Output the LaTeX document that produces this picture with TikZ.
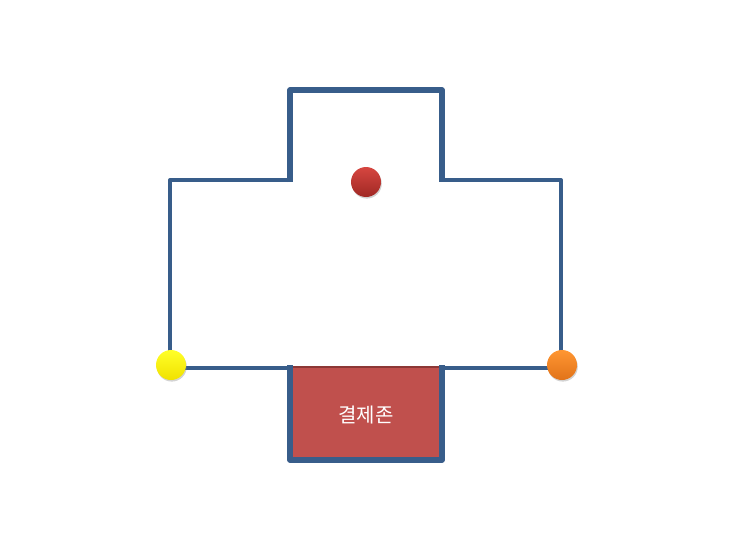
\documentclass[tikz,border=0pt]{standalone}
\usepackage{fontspec}
\newfontfamily\krfont{Noto Sans CJK KR}
\usetikzlibrary{shadows}

\definecolor{wallblue}{RGB}{56,93,138}
\definecolor{zonered}{RGB}{192,80,77}
\definecolor{zoneedge}{RGB}{140,56,54}

\tikzset{every picture/.style={line width=0.75pt}}
\tikzset{
  thinwall/.style={color=wallblue, line width=3pt, line join=round},
  thickwall/.style={color=wallblue, line width=4.2pt, line join=round},
  ball/.style={circle, minimum size=22.5pt, inner sep=0pt, drop shadow={opacity=0.35, shadow xshift=0.6pt, shadow yshift=-1.2pt}},
}

\begin{document}
\begin{tikzpicture}[x=0.75pt,y=0.75pt,yscale=-1,xscale=1]
\useasboundingbox (0,0) rectangle (730,549);
%Shape: Rectangle [id:zone fill]
\fill [zonered] (290,367) rectangle (442,460) ;
%Straight Lines [id:zone top edge]
\draw [zoneedge, line width=1.2pt] (292,367) -- (440,367) ;
%Straight Lines [id:left wing]
\draw [thinwall] (170,368) -- (170,180) -- (290,180) ;
\draw [thinwall] (170,368) -- (290,368) ;
%Straight Lines [id:right wing]
\draw [thinwall] (442,180) -- (561,180) -- (561,368) -- (442,368) ;
%Straight Lines [id:top room]
\draw [thickwall] (290,182) -- (290,90) -- (442,90) -- (442,182) ;
%Straight Lines [id:zone walls]
\draw [thickwall] (290,365) -- (290,460) -- (442,460) -- (442,365) ;
% Text Node
\draw (366,415) node (zone) [inner sep=0.75pt, text=white, font=\krfont\fontsize{15}{17}\selectfont] {결제존};
% Circles
\node (redball) [ball, top color={rgb,255:red,214;green,70;blue,64}, bottom color={rgb,255:red,160;green,40;blue,36}] at (366,182) {};
\node (yellowball) [ball, top color={rgb,255:red,255;green,255;blue,40}, bottom color={rgb,255:red,240;green,225;blue,0}] at (171,365) {};
\node (orangeball) [ball, top color={rgb,255:red,255;green,150;blue,50}, bottom color={rgb,255:red,225;green,115;blue,25}] at (562,365) {};
\end{tikzpicture}
\end{document}
